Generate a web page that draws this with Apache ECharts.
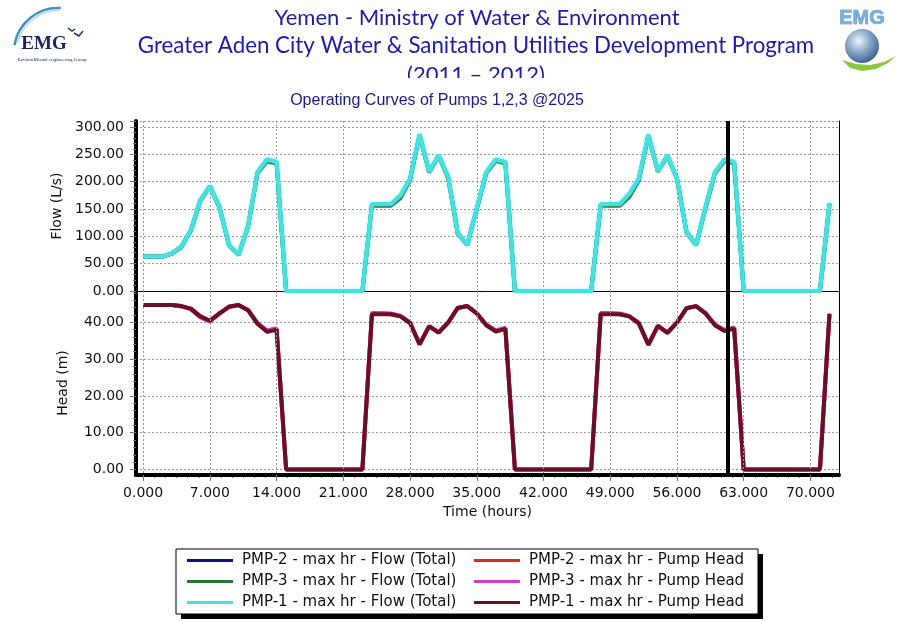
<!DOCTYPE html>
<html><head><meta charset="utf-8">
<script src="https://cdn.jsdelivr.net/npm/echarts@6/dist/echarts.min.js"></script>
<style>html,body{margin:0;padding:0;background:#fff}#c{width:900px;height:629px}</style>
</head><body><div id="c"></div>
<script>
// ---- data ----
const hours = [0,1,2,3,4,5,6,7,8,9,10,11,12,13,14,15,16,17,18,19,20,21,22,23,24,25,26,27,28,29,30,31,32,33,34,35,36,37,38,39,40,41,42,43,44,45,46,47,48,49,50,51,52,53,54,55,56,57,58,59,60,61,62,63,64,65,66,67,68,69,70,71,72];
const flowPmp2 = [63,63,63,69,81,111,166,192,154,84,66,118,217,240,235,0,0,0,0,0,0,0,0,0,158,158,158,173,205,286,218,248,208,106,84,151,217,240,235,0,0,0,0,0,0,0,0,0,158,158,158,176,205,285,219,248,206,108,84,153,217,240,235,0,0,0,0,0,0,0,0,0,160];
const flowPmp3 = [63,63,63,68,80,110,165,191,153,84,66,117,216,237,233,0,0,0,0,0,0,0,0,0,156,156,156,170,203,285,217,247,207,105,84,150,216,238,233,0,0,0,0,0,0,0,0,0,156,156,156,172,202,284,218,247,205,107,84,152,216,238,233,0,0,0,0,0,0,0,0,0,159];
const flowPmp1 = [63,63,63,69,81,111,166,192,154,84,66,118,218,241,236,0,0,0,0,0,0,0,0,0,159,159,159,175,206,287,218,249,209,106,84,152,218,241,236,0,0,0,0,0,0,0,0,0,159,159,159,178,206,286,219,249,206,108,84,154,218,241,236,0,0,0,0,0,0,0,0,0,161];
const headPmp2 = [44.7,44.7,44.7,44.7,44.4,43.7,41.6,40.4,42.4,44.2,44.7,43.3,39.6,37.5,38.1,0,0,0,0,0,0,0,0,0,42.3,42.3,42.2,41.6,39.8,34.0,38.9,37.2,39.9,43.9,44.4,42.4,39.2,37.6,38.3,0,0,0,0,0,0,0,0,0,42.3,42.3,42.2,41.6,39.7,33.9,39.0,37.1,39.9,43.8,44.4,42.4,39.2,37.7,38.4,0,0,0,0,0,0,0,0,0,42.2];
const headPmp3 = [44.7,44.7,44.7,44.7,44.3,43.5,41.3,40.2,42.3,44.2,44.7,43.4,39.8,37.8,38.4,0,0,0,0,0,0,0,0,0,42.5,42.5,42.4,41.8,40.0,34.1,39.0,37.4,40.0,43.9,44.4,42.5,39.4,37.8,38.5,0,0,0,0,0,0,0,0,0,42.5,42.5,42.4,41.7,39.9,34.0,39.1,37.3,40.0,43.8,44.4,42.5,39.4,37.9,38.6,0,0,0,0,0,0,0,0,0,42.4];
const headPmp1 = [44.7,44.7,44.7,44.7,44.4,43.7,41.6,40.4,42.4,44.2,44.7,43.3,39.6,37.4,38.0,0,0,0,0,0,0,0,0,0,42.2,42.2,42.2,41.6,39.8,34.0,38.9,37.2,39.9,43.9,44.4,42.4,39.2,37.5,38.2,0,0,0,0,0,0,0,0,0,42.2,42.2,42.2,41.6,39.7,33.9,39.0,37.1,39.9,43.8,44.4,42.4,39.2,37.6,38.3,0,0,0,0,0,0,0,0,0,42.2];
const markerHour = 61.3;
const xTickValues = [0,7,14,21,28,35,42,49,56,63,70];
const headTickValues = [0,10,20,30,40];
const flowNames = ['PMP-2 - max hr - Flow (Total)','PMP-3 - max hr - Flow (Total)','PMP-1 - max hr - Flow (Total)'];
const headNames = ['PMP-2 - max hr - Pump Head','PMP-3 - max hr - Pump Head','PMP-1 - max hr - Pump Head'];
const titleLines = ['Yemen - Ministry of Water & Environment','Greater Aden City Water & Sanitation Utilities Development Program','(2011 \u2013 2012)'];
const chartTitle = 'Operating Curves of Pumps 1,2,3 @2025';

// ---- chart ----
const X_MIN = -0.75, X_MAX = 73, H_MIN = -1.5, H_MAX = 48.5;
const pair = (vals) => hours.map((h, i) => [h, vals[i]]);
// minor tick positions: 6 subdivisions between x majors, 5 between head majors
const xMinor = [];
xTickValues.forEach(m => { for (let j = 1; j < 6; j++) { const v = m + j * 7 / 6; if (v < X_MAX) xMinor.push(+v.toFixed(3)); } });
const headMinor = [];
for (let m = 0; m <= 40; m += 10) { for (let j = 1; j < 5; j++) { const v = m + j * 2; if (v < H_MAX) headMinor.push(v); } }

const tickFont = {fontFamily:'DejaVu Sans', fontSize:14, color:'#111'};
const gridLine = {show:true, lineStyle:{color:'#9a9a9a', type:[2,2], width:1}};
const titleBlue = '#1c1ca6';
const tickLine = {color:'#777', width:1};

const flowColors = ['#10108c','#1e7b30','#44e2e0'];
const headColors = ['#d42a2a','#d03cd0','#6a1025'];
const flowData = [flowPmp2, flowPmp3, flowPmp1];
const headData = [headPmp2, headPmp3, headPmp1];

const series = [];
flowData.forEach((d, i) => series.push({
  name: flowNames[i], type:'line', xAxisIndex:0, yAxisIndex:0, data: pair(d),
  showSymbol:false, symbol:'none', color: flowColors[i],
  lineStyle:{width: 4, color: flowColors[i], shadowBlur: i===2?3:0, shadowColor:'rgba(100,240,240,0.7)'},
  z: 2 + i, animation:false
}));
headData.forEach((d, i) => series.push({
  name: headNames[i], type:'line', xAxisIndex:1, yAxisIndex:1, data: pair(d),
  showSymbol:false, symbol:'none', color: headColors[i],
  lineStyle:{width: 4, color: headColors[i]},
  z: 2 + i, animation:false
}));
const mk = {symbol:'none', silent:true, label:{show:false}, animation:false,
  lineStyle:{color:'#000', width:4, type:'solid'}, data:[{xAxis: markerHour}]};
series[2].markLine = mk;
series[5].markLine = JSON.parse(JSON.stringify(mk));

const option = {
  backgroundColor:'#fff',
  animation:false,
  grid:[
    {left:136, top:121, width:703, height:170},
    {left:136, top:291, width:703, height:184}
  ],
  xAxis:[
    {type:'value', min:X_MIN, max:X_MAX, gridIndex:0, position:'top',
      axisLine:{show:true, lineStyle:{color:'#000', width:1}},
      axisTick:{show:false, customValues:xTickValues}, axisLabel:{show:false, customValues:xTickValues}, splitLine:gridLine},
    {type:'value', min:X_MIN, max:X_MAX, gridIndex:1, position:'bottom',
      name:'Time (hours)', nameLocation:'middle', nameGap:30,
      nameTextStyle:{fontFamily:'DejaVu Sans', fontSize:14, color:'#111'},
      axisLine:{show:true, onZero:false, lineStyle:{color:'#000', width:4}},
      axisTick:{show:true, length:6, lineStyle:tickLine, customValues:xTickValues},
      axisLabel:Object.assign({margin:11, customValues:xTickValues, formatter:(v)=>v.toFixed(3)}, tickFont),
      splitLine:gridLine, z:5},
    {type:'value', min:X_MIN, max:X_MAX, gridIndex:1, position:'bottom',
      axisLine:{show:false, onZero:false},
      axisTick:{show:true, length:3, lineStyle:tickLine, customValues:xMinor},
      axisLabel:{show:false, customValues:xMinor}, splitLine:{show:false}}
  ],
  yAxis:[
    {type:'value', gridIndex:0, min:0, max:311, interval:50,
      name:'Flow (L/s)', nameLocation:'middle', nameGap:66,
      nameTextStyle:{fontFamily:'DejaVu Sans', fontSize:14, color:'#111'},
      axisLine:{show:true, onZero:false, lineStyle:{color:'#000', width:4}},
      axisTick:{show:true, length:6, lineStyle:tickLine},
      minorTick:{show:true, splitNumber:5, length:3, lineStyle:tickLine},
      axisLabel:Object.assign({margin:12, showMaxLabel:false, formatter:(v)=>v.toFixed(2)}, tickFont),
      splitLine:gridLine},
    {type:'value', gridIndex:1, min:H_MIN, max:H_MAX,
      name:'Head (m)', nameLocation:'middle', nameGap:66,
      nameTextStyle:{fontFamily:'DejaVu Sans', fontSize:14, color:'#111'},
      axisLine:{show:true, onZero:false, lineStyle:{color:'#000', width:4}},
      axisTick:{show:true, length:6, lineStyle:tickLine, customValues:headTickValues},
      axisLabel:Object.assign({margin:12, customValues:headTickValues, formatter:(v)=>v.toFixed(2)}, tickFont),
      splitLine:gridLine},
    {type:'value', gridIndex:0, position:'right', min:0, max:311,
      axisLine:{show:true, onZero:false, lineStyle:{color:'#000', width:1}},
      axisTick:{show:false}, axisLabel:{show:false}, splitLine:{show:false}},
    {type:'value', gridIndex:1, position:'right', min:H_MIN, max:H_MAX,
      axisLine:{show:true, onZero:false, lineStyle:{color:'#000', width:1}},
      axisTick:{show:false}, axisLabel:{show:false}, splitLine:{show:false}},
    {type:'value', gridIndex:1, position:'left', min:H_MIN, max:H_MAX,
      axisLine:{show:false, onZero:false},
      axisTick:{show:true, length:3, lineStyle:tickLine, customValues:headMinor},
      axisLabel:{show:false, customValues:headMinor}, splitLine:{show:false}}
  ],
  legend:[
    {data:flowNames, orient:'vertical', left:187, top:550, padding:0, itemGap:0,
      icon:'rect', itemWidth:46, itemHeight:3, selectedMode:false, z:10,
      textStyle:{fontFamily:'DejaVu Sans', fontSize:15, color:'#111', lineHeight:21, padding:[0,0,0,4]}},
    {data:headNames, orient:'vertical', left:474, top:550, padding:0, itemGap:0,
      icon:'rect', itemWidth:46, itemHeight:3, selectedMode:false, z:10,
      textStyle:{fontFamily:'DejaVu Sans', fontSize:15, color:'#111', lineHeight:21, padding:[0,0,0,4]}}
  ],
  graphic:[
    // legend frame with shadow
    {type:'rect', shape:{x:181, y:554, width:582, height:65}, style:{fill:'#000'}, z:1, silent:true},
    {type:'rect', shape:{x:176, y:549, width:582, height:65}, style:{fill:'#fff', stroke:'#000', lineWidth:1}, z:2, silent:true},
    // header titles
    {type:'text', x:477, y:18, style:{text:titleLines[0], fill:titleBlue, font:'22px Lato', align:'center', verticalAlign:'middle'}, z:5},
    {type:'text', x:476, y:46, style:{text:titleLines[1], fill:titleBlue, font:'22.3px Lato', align:'center', verticalAlign:'middle'}, z:5},
    {type:'text', x:476, y:75, style:{text:titleLines[2], fill:titleBlue, font:'22px Lato', align:'center', verticalAlign:'middle'}, z:5},
    {type:'rect', shape:{x:300, y:78, width:350, height:12}, style:{fill:'#fff'}, z:6, silent:true},
    {type:'text', x:437, y:101, style:{text:chartTitle, fill:'#1a1a8a', font:'16px "Liberation Sans", Arial', align:'center', verticalAlign:'middle'}, z:5},
    // left logo
    {type:'arc', shape:{cx:58, cy:52, r:44, startAngle:Math.PI*1.05, endAngle:Math.PI*1.52}, style:{stroke:'#3f8fc4', lineWidth:2.5, fill:null}, z:5},
    {type:'arc', shape:{cx:60, cy:54, r:44, startAngle:Math.PI*1.08, endAngle:Math.PI*1.5}, style:{stroke:'#b8d8ec', lineWidth:1.5, fill:null}, z:5},
    {type:'text', x:44, y:44, style:{text:'EMG', fill:'#1c2460', font:'bold 19px "Liberation Serif", serif', align:'center', verticalAlign:'middle'}, z:5},
    {type:'text', x:52, y:60, style:{text:'EnvironMental engineering Group', fill:'#1c2460', font:'5px "Liberation Serif", serif', align:'center', verticalAlign:'middle'}, z:5},
    {type:'polyline', shape:{points:[[68,28],[72,31],[75,29]]}, style:{stroke:'#233050', lineWidth:1.5, fill:null}, z:5},
    {type:'polyline', shape:{points:[[74,33],[79,36],[83,31]]}, style:{stroke:'#233050', lineWidth:1.5, fill:null}, z:5},
    // right logo
    {type:'text', x:862, y:18, style:{text:'EMG', fill:'#7ab0e0', font:'bold 20px "Liberation Sans", Arial', align:'center', verticalAlign:'middle', stroke:'#3c78b8', lineWidth:0.6}, z:5},
    {type:'polygon', shape:{points:[[842,60],[850,68],[862,71],[876,69],[888,63],[896,56],[884,62],[870,65],[856,64]]}, style:{fill:'#8cc63f'}, z:5},
    {type:'circle', shape:{cx:862, cy:46, r:17}, style:{fill:{type:'radial', x:0.4, y:0.35, r:0.7, colorStops:[{offset:0,color:'#eef4fa'},{offset:0.5,color:'#86a6c8'},{offset:1,color:'#3c5c8c'}]}}, z:6}
  ],
  series: series
};
const chart = echarts.init(document.getElementById('c'), null, {renderer:'canvas'});
chart.setOption(option);
</script>
</body></html>
